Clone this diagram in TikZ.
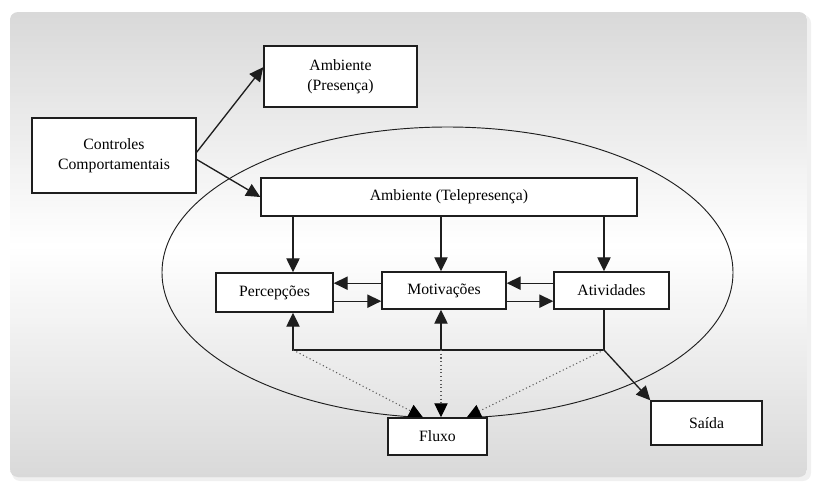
\documentclass[tikz,border=0pt]{standalone}
\usepackage{fontspec}
\setmainfont{Liberation Serif}
\usepackage{xcolor}
\usepackage{tikz}
\usetikzlibrary{arrows.meta, calc}

\begin{document}
\begin{tikzpicture}[>={Triangle[length=10.5pt, width=10pt]}, x=0.75pt, y=-0.75pt, font=\fontsize{11.8}{15}\selectfont]
\definecolor{boxline}{RGB}{30, 30, 30}
\tikzset{flow box/.style={draw=boxline, fill=white, line width=1.1pt, inner sep=0pt, align=center},
    flow arrow/.style={->, line width=1pt, boxline},
    dot arrow/.style={-{Triangle[length=10.5pt, width=10pt, color=black]}, dotted, line width=0.8pt, gray!70!black}}
\useasboundingbox (0,0) rectangle (815,482);
% Background frame
\fill[gray!12, rounded corners=6pt] (12,15) rectangle (811,481);
\begin{scope}
    \clip[rounded corners=6pt] (10,12) rectangle (807,477);
    \foreach \y in {12,15,...,477} {
        \pgfmathsetmacro{\amt}{15*abs((\y-12)/232.5-1)}
        \fill[black!\amt] (10,\y) rectangle (807,\y+3.6);
    }
\end{scope}
\draw[line width=0.7pt, boxline] (447.5,272.5) ellipse [x radius=285.5, y radius=145.5];
% Boxes
\node[flow box, minimum width=114.75pt, minimum height=45.75pt] (pres) at (340.5,76.5) {Ambiente\\(Presença)};
\node[flow box, minimum width=123pt, minimum height=56.25pt] (ctrl) at (114,155.5) {Controles\\Comportamentais};
\node[flow box, minimum width=282pt, minimum height=28.5pt] (tele) at (449,197) {Ambiente (Telepresença)};
\node[flow box, minimum width=87.75pt, minimum height=29.25pt] (perc) at (274.5,292.5) {Percepções};
\node[flow box, minimum width=93pt, minimum height=27.75pt] (mot) at (444,290.5) {Motivações};
\node[flow box, minimum width=86.25pt, minimum height=27.75pt] (act) at (611.5,290.5) {Atividades};
\node[flow box, minimum width=74.25pt, minimum height=27.75pt] (flux) at (437.5,436.5) {Fluxo};
\node[flow box, minimum width=83.25pt, minimum height=33pt] (sai) at (706.5,423) {Saída};
% Controls
\draw[flow arrow] ([yshift=2.5pt]ctrl.east) -- ([yshift=7pt]pres.west);
\draw[flow arrow] ([yshift=-3pt]ctrl.east) -- (tele.west);
% Telepresence to the three boxes
\coordinate (pin) at (293,350);
\coordinate (min) at (441,350);
\coordinate (ain) at (604,350);
\draw[flow arrow] (tele.south -| pin) -- (perc.north -| pin);
\draw[flow arrow] (tele.south -| min) -- (mot.north -| min);
\draw[flow arrow] (tele.south -| ain) -- (act.north -| ain);
% Side arrows
\draw[flow arrow] ([yshift=5.5pt]mot.west) -- ([yshift=5.5pt]mot.west -| perc.east);
\draw[flow arrow] ([yshift=-8pt]mot.west -| perc.east) -- ([yshift=-8pt]mot.west);
\draw[flow arrow] ([yshift=5.5pt]act.west) -- ([yshift=5.5pt]act.west -| mot.east);
\draw[flow arrow] ([yshift=-8pt]act.west -| mot.east) -- ([yshift=-8pt]act.west);
% Feedback
\draw[flow arrow] (act.south -| ain) -- (ain) -- (pin) -- (perc.south -| pin);
\draw[flow arrow] (min) -- (mot.south -| min);
\draw[dot arrow] (pin) -- ([xshift=-11pt]flux.north);
\draw[dot arrow] (min) -- (flux.north -| min);
\draw[dot arrow] (ain) -- ([xshift=22pt]flux.north);
\draw[flow arrow] (ain) -- (sai.north west);
\end{tikzpicture}
\end{document}
